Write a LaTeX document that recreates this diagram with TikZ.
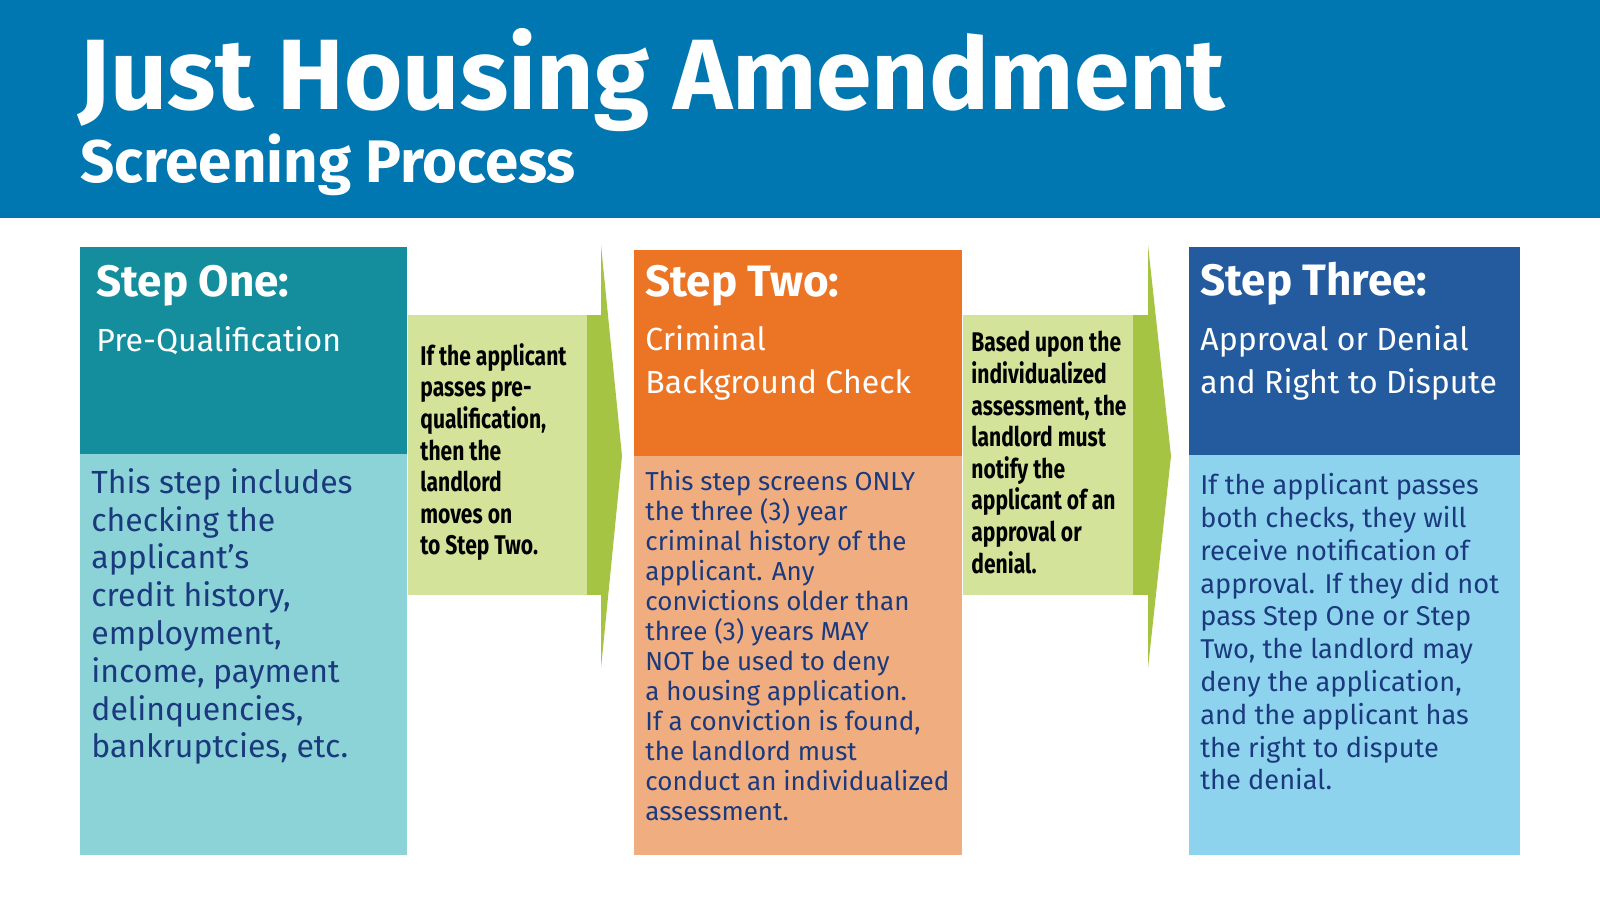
\documentclass[tikz,border=0pt]{standalone}
\usepackage{fontspec}
\setmainfont{Fira Sans}
\newfontfamily\condf[FakeStretch=0.78]{Fira Sans}
\definecolor{hdr}{HTML}{0077B0}
\definecolor{sonet}{HTML}{148E9C}\definecolor{soneb}{HTML}{8CD3D8}
\definecolor{stwot}{HTML}{EB7425}\definecolor{stwob}{HTML}{F0AD80}
\definecolor{sthrt}{HTML}{235B9E}\definecolor{sthrb}{HTML}{8DD3EE}
\definecolor{arl}{HTML}{D4E39A}\definecolor{ard}{HTML}{A6C444}
\definecolor{navy}{HTML}{1B3A7E}
\tikzset{x=0.5pt,y=-0.5pt,
 head/.style={anchor=north west,inner sep=0pt,text=white,font=\fontsize{22}{24}\selectfont\bfseries},
 sub/.style={anchor=north west,inner sep=0pt,text=white,align=left,font=\fontsize{16}{21.5}\selectfont},
 body/.style={anchor=north west,inner sep=0pt,text=navy,align=left},
 artext/.style={anchor=north west,inner sep=0pt,text=black,align=left,font=\condf\fontsize{13.5}{15.8}\selectfont\bfseries}}
\begin{document}
\begin{tikzpicture}
\useasboundingbox (0,0) rectangle (1600,900);
\fill[white] (0,0) rectangle (1600,900);
\fill[hdr] (0,0) rectangle (1600,218);
\node[anchor=west,inner sep=0pt,text=white,font=\fontsize{50}{50}\selectfont\bfseries] (title) at (78,80) {Just Housing Amendment};
\node[anchor=west,inner sep=0pt,text=white,font=\fontsize{30}{30}\selectfont\bfseries] (subtitle) at (80,165) {Screening Process};
% step one
\fill[sonet] (80,247) rectangle (407,454);
\fill[soneb] (80,454) rectangle (407,855);
\node[head] (h1) at (96,265) {Step One:};
\node[sub] (s1) at (96,326) {Pre-Qualification};
\node[body,font=\fontsize{16}{18.9}\selectfont] (b1) at (91,468) {This step includes\\checking the\\applicant’s\\credit history,\\employment,\\income, payment\\delinquencies,\\bankruptcies, etc.};
% arrow one
\fill[arl] (408,315) rectangle (587,595);
\fill[ard] (587,315) rectangle (603,595);
\fill[ard] (601,245) -- (622,456) -- (601,668) -- cycle;
\node[artext] (a1) at (420,343) {If the applicant\\passes pre-\\qualification,\\then the\\landlord\\moves on\\to Step Two.};
% step two
\fill[stwot] (634,250) rectangle (962,456);
\fill[stwob] (634,456) rectangle (962,855);
\node[head] (h2) at (645,265) {Step Two:};
\node[sub] (s2) at (645,325) {Criminal\\Background Check};
\node[body,font=\fontsize{13}{15}\selectfont] (b2) at (645,470) {This step screens ONLY\\the three (3) year\\criminal history of the\\applicant. Any\\convictions older than\\three (3) years MAY\\NOT be used to deny\\a housing application.\\If a conviction is found,\\the landlord must\\conduct an individualized\\assessment.};
% arrow two
\fill[arl] (963,315) rectangle (1133,595);
\fill[ard] (1133,315) rectangle (1150,595);
\fill[ard] (1148,245) -- (1171,456) -- (1148,668) -- cycle;
\node[artext] (a2) at (971,331) {Based upon the\\individualized\\assessment, the\\landlord must\\notify the\\applicant of an\\approval or\\denial.};
% step three
\fill[sthrt] (1189,247) rectangle (1520,455);
\fill[sthrb] (1189,455) rectangle (1520,855);
\node[head] (h3) at (1200,262) {Step Three:};
\node[sub] (s3) at (1200,325) {Approval or Denial\\and Right to Dispute};
\node[body,font=\fontsize{13.6}{16.4}\selectfont] (b3) at (1200,473) {If the applicant passes\\both checks, they will\\receive notification of\\approval. If they did not\\pass Step One or Step\\Two, the landlord may\\deny the application,\\and the applicant has\\the right to dispute\\the denial.};
\end{tikzpicture}
\end{document}
